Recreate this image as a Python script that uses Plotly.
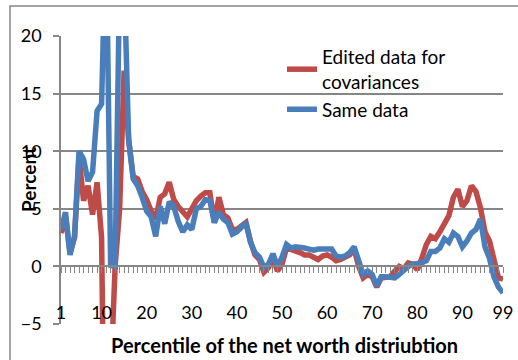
import plotly.graph_objects as go

percentile = list(range(1, 100))

edited = [
    2.9, 4.3, 1.2, 2.5, 9.5, 5.7, 7.0, 4.5, 7.3, 2.5,
    -30.0, -10.0, 0.0, 5.0, 17.0, 11.0, 7.8, 7.6, 6.5, 5.8,
    4.8, 4.1, 6.0, 6.3, 7.3, 5.8, 5.2, 4.8, 4.3, 5.0,
    5.7, 6.1, 6.4, 6.4, 3.8, 6.0, 4.5, 4.2, 3.2, 3.2,
    3.5, 3.8, 2.2, 1.0, 0.6, -0.5, -0.1, 0.7, -0.4, 0.2,
    1.6, 1.5, 1.3, 1.2, 1.0, 1.0, 0.8, 0.6, 0.9, 1.0,
    0.8, 0.5, 0.6, 0.8, 1.0, 1.5, 0.0, -1.0, -0.7, -0.9,
    -1.8, -1.0, -0.9, -0.9, -0.4, 0.0, -0.2, 0.3, 0.2, -0.3,
    0.7, 1.9, 2.6, 2.4, 3.0, 3.8, 4.4, 6.0, 6.7, 5.2,
    5.7, 7.0, 6.5, 5.1, 3.0, 2.2, 0.4, -1.0, -1.1,
]

same = [
    3.2, 4.7, 1.0, 2.6, 10.0, 9.3, 7.4, 8.2, 13.5, 14.1,
    30.0, 0.1, 0.0, 25.0, 25.0, 11.0, 7.6, 7.0, 6.0, 4.8,
    4.3, 2.6, 5.2, 3.7, 5.6, 5.2, 3.9, 3.0, 3.6, 3.2,
    5.0, 5.2, 5.8, 5.7, 3.8, 4.7, 4.1, 3.8, 2.8, 3.0,
    3.4, 3.8, 2.1, 1.2, 0.8, -0.1, 0.2, 1.1, 0.0, 0.8,
    1.9, 1.6, 1.7, 1.7, 1.6, 1.5, 1.4, 1.5, 1.5, 1.6,
    1.5, 0.9, 0.8, 0.9, 1.2, 1.7, 0.6, -0.7, -0.4, -0.7,
    -1.7, -0.9, -0.9, -1.0, -1.0, -0.7, -0.3, 0.0, 0.2, 0.2,
    0.3, 0.5, 1.3, 1.3, 1.6, 2.4, 2.1, 2.9, 2.6, 1.7,
    2.2, 2.9, 3.2, 4.1, 1.7, 0.7, -0.9, -1.8, -2.3,
]

x_tick_vals = [1, 10, 20, 30, 40, 50, 60, 70, 80, 90, 99]
x_tick_text = ["1", "10", "20", "30", "40", "50", "60", "70", "80", "90", "99"]
y_tick_vals = [-5, 0, 5, 10, 15, 20]

RED = "#be4b48"
BLUE = "#4a7ebb"
GRAY = "#868686"
FONT = "Lato"

W, H = 518, 360
L, R, T, B = 61, 15, 36, 36
PW = W - L - R
PH = H - T - B


def px_x(p):
    return (p - L) / PW


def px_y(p):
    return (H - B - p) / PH


fig = go.Figure()
fig.add_trace(go.Scatter(
    x=percentile, y=edited, mode="lines", name="Edited data for<br>covariances",
    line=dict(color=RED, width=5.5),
))
fig.add_trace(go.Scatter(
    x=percentile, y=same, mode="lines", name="Same data",
    line=dict(color=BLUE, width=5.5),
))
# helper trace so the category-tick axis at zero is drawn
fig.add_trace(go.Scatter(
    x=[1, 99], y=[0, 0], xaxis="x2", mode="lines", opacity=0,
    showlegend=False, hoverinfo="skip", line=dict(width=0),
))

fig.update_layout(
    width=W, height=H,
    margin=dict(l=L, r=R, t=T, b=B, autoexpand=False),
    paper_bgcolor="white", plot_bgcolor="white",
    font=dict(family=FONT, size=18, color="black"),
    showlegend=True,
    legend=dict(
        x=px_x(282), y=px_y(38), xanchor="left", yanchor="top",
        bgcolor="rgba(0,0,0,0)", font=dict(family=FONT, size=19, color="black"),
        tracegroupgap=0,
    ),
    xaxis=dict(
        range=[1, 99], tickvals=x_tick_vals, ticktext=x_tick_text,
        anchor="free", position=px_y(300),
        showgrid=False, zeroline=False, showline=False, ticks="",
        tickfont=dict(family=FONT, size=18, color="black"),
    ),
    xaxis2=dict(
        overlaying="x", anchor="free", position=0.2, range=[1, 99],
        tickvals=percentile, ticks="outside", ticklen=6, tickcolor=GRAY, tickwidth=1.2,
        showticklabels=False, showgrid=False, zeroline=False,
        showline=True, linecolor=GRAY, linewidth=1.5,
    ),
    yaxis=dict(
        range=[-5, 20], tickvals=y_tick_vals,
        showgrid=True, gridcolor=GRAY, gridwidth=1.5, zeroline=False,
        showline=True, linecolor=GRAY, linewidth=1.5,
        ticks="outside", ticklen=6, tickcolor=GRAY, tickwidth=1.5,
        ticklabelstandoff=8,
        tickfont=dict(family=FONT, size=18, color="black"),
    ),
    annotations=[
        dict(text="<b>Percent</b>", textangle=-90, xref="paper", yref="paper",
             x=px_x(28), y=px_y(180), xanchor="center", yanchor="middle", showarrow=False,
             font=dict(family=FONT, size=19, color="black")),
        dict(text="<b>Percentile of the net worth distriubtion</b>", xref="paper", yref="paper",
             x=px_x(284), y=px_y(345), xanchor="center", yanchor="middle", showarrow=False,
             font=dict(family=FONT, size=20, color="black")),
    ],
    shapes=[
        dict(type="rect", xref="paper", yref="paper",
             x0=px_x(10), x1=px_x(525), y0=px_y(365), y1=px_y(6),
             line=dict(color=GRAY, width=1.5), fillcolor="rgba(0,0,0,0)", layer="below"),
    ],
)

fig.write_html(
    "out.html",
    config={"displayModeBar": False},
    post_script="document.body.style.margin='0';document.body.style.overflow='hidden';",
)
